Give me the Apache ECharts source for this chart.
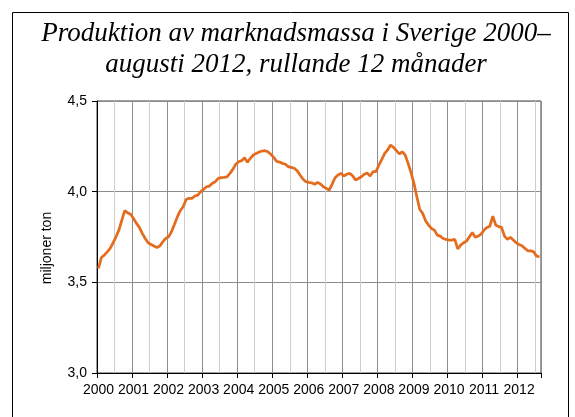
<!DOCTYPE html>
<html>
<head>
<meta charset="utf-8">
<script src="https://cdn.jsdelivr.net/npm/echarts@6/dist/echarts.min.js"></script>
<style>
  html, body { margin: 0; padding: 0; background: #fff; }
  #main { width: 575px; height: 417px; }
</style>
</head>
<body>
<div id="main"></div>
<script>
// år på x-axeln (jan 2000 - aug 2012, månadsvärden)
var years = ['2000', '2001', '2002', '2003', '2004', '2005', '2006', '2007', '2008', '2009', '2010', '2011', '2012'];
var yTicks = [3.0, 3.5, 4.0, 4.5];

// rullande 12 månader, miljoner ton
var produktion = [
  3.577, 3.637, 3.650, 3.668, 3.687, 3.718, 3.751, 3.788, 3.843, 3.895, 3.883, 3.876,
  3.852, 3.825, 3.803, 3.770, 3.742, 3.718, 3.709, 3.700, 3.692, 3.700, 3.723, 3.742,
  3.751, 3.779, 3.819, 3.861, 3.895, 3.917, 3.957, 3.963, 3.963, 3.976, 3.981, 4.000,
  4.013, 4.027, 4.031, 4.046, 4.055, 4.073, 4.077, 4.079, 4.082, 4.101, 4.123, 4.151,
  4.165, 4.171, 4.187, 4.162, 4.184, 4.202, 4.211, 4.219, 4.224, 4.226, 4.220, 4.206,
  4.189, 4.167, 4.163, 4.156, 4.151, 4.138, 4.134, 4.129, 4.116, 4.092, 4.070, 4.055,
  4.051, 4.049, 4.040, 4.051, 4.042, 4.027, 4.018, 4.009, 4.042, 4.077, 4.092, 4.101,
  4.086, 4.096, 4.101, 4.088, 4.064, 4.073, 4.082, 4.096, 4.103, 4.086, 4.110, 4.110,
  4.147, 4.178, 4.211, 4.230, 4.257, 4.245, 4.226, 4.208, 4.220, 4.202, 4.156, 4.105,
  4.046, 3.972, 3.902, 3.880, 3.839, 3.816, 3.797, 3.788, 3.760, 3.755, 3.742, 3.737,
  3.733, 3.733, 3.737, 3.684, 3.705, 3.718, 3.727, 3.751, 3.775, 3.748, 3.755, 3.766,
  3.788, 3.803, 3.810, 3.865, 3.816, 3.807, 3.803, 3.755, 3.737, 3.748, 3.733, 3.718,
  3.709, 3.702, 3.687, 3.674, 3.674, 3.668, 3.644, 3.641
];

var months = [];
for (var i = 0; i < produktion.length; i++) {
  months.push(years[Math.floor(i / 12)] + '-' + (i % 12 + 1));
}

var myChart = echarts.init(document.getElementById('main'));
myChart.setOption({
  animation: false,
  title: {
    text: 'Produktion av marknadsmassa i Sverige 2000–\naugusti 2012, rullande 12 månader',
    left: 291,
    textAlign: 'center',
    top: 13,
    textStyle: {
      fontFamily: 'Liberation Serif',
      fontStyle: 'italic',
      fontWeight: 'normal',
      fontSize: 27,
      lineHeight: 31,
      color: '#000'
    }
  },
  graphic: [
    {
      type: 'rect',
      shape: { x: 12.5, y: 12.5, width: 556, height: 420 },
      style: { fill: 'none', stroke: '#000', lineWidth: 1 },
      silent: true
    },
    // y-axelns rubrik, lite under mitten som i originalet
    {
      type: 'text',
      x: 47,
      y: 248,
      rotation: Math.PI / 2,
      style: {
        text: 'miljoner ton',
        fill: '#000',
        font: '14px "Liberation Sans"',
        align: 'center',
        verticalAlign: 'middle'
      },
      silent: true
    }
  ],
  grid: {
    left: 97,
    right: 34,
    top: 101,
    bottom: 44,
    show: true,
    borderColor: '#404040',
    borderWidth: 1,
    containLabel: false
  },
  xAxis: {
    type: 'category',
    data: months,
    boundaryGap: true,
    axisLine: { lineStyle: { color: '#000', width: 1 } },
    axisTick: {
      show: true,
      length: 5,
      interval: function (index) { return index % 12 === 0; },
      lineStyle: { color: '#000' }
    },
    axisLabel: {
      interval: function (index) { return index % 12 === 0; },
      formatter: function (value) { return value.slice(0, 4); },
      margin: 10,
      color: '#000',
      fontFamily: 'Liberation Sans',
      fontSize: 14
    },
    splitLine: {
      show: true,
      interval: function (index) { return index % 6 === 0; },
      lineStyle: { color: ['#8c8c8c', '#cdcdcd'], width: 1 }
    }
  },
  yAxis: {
    type: 'value',
    min: yTicks[0],
    max: yTicks[yTicks.length - 1],
    interval: 0.5,
    axisLine: { show: true, lineStyle: { color: '#000', width: 1 } },
    axisTick: { show: true, length: 5, lineStyle: { color: '#000' } },
    axisLabel: {
      margin: 10,
      color: '#000',
      fontFamily: 'Liberation Sans',
      fontSize: 14,
      formatter: function (v) { return v.toFixed(1).replace('.', ','); }
    },
    splitLine: { show: true, lineStyle: { color: '#8c8c8c', width: 1 } }
  },
  series: [
    {
      name: 'Produktion',
      type: 'line',
      data: produktion,
      symbol: 'none',
      smooth: false,
      lineStyle: { color: '#e46c1e', width: 2.75 },
      itemStyle: { color: '#e46c1e' }
    }
  ]
});
</script>
</body>
</html>
